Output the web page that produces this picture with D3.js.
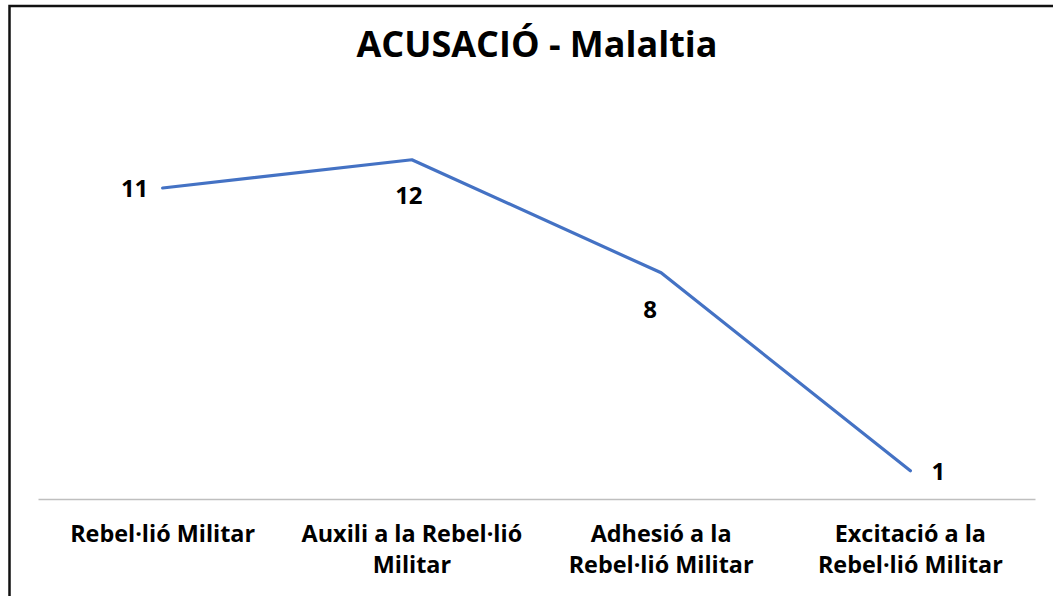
<!DOCTYPE html>
<html>
<head>
<meta charset="utf-8">
<script src="https://cdn.jsdelivr.net/npm/d3@7"></script>
<style>
    body { margin: 0; background: #fff; }
    svg text { font-family: "Open Sans", Lato, sans-serif; font-weight: bold; fill: #000; }
</style>
</head>
<body>
<div class="canvas"></div>
<script>
const categories = [
    ['Rebel·lió Militar'],
    ['Auxili a la Rebel·lió', 'Militar'],
    ['Adhesió a la', 'Rebel·lió Militar'],
    ['Excitació a la', 'Rebel·lió Militar']
];
const values = [11, 12, 8, 1];
const title = 'ACUSACIÓ - Malaltia';

const width = 1053, height = 596;
const plotL = 38, plotR = 1035, axisY = 499;

const svg = d3.select('.canvas')
    .append('svg')
    .attr('width', width)
    .attr('height', height)
    ;

// border (open on the right and bottom, like the cropped original)
svg.append('path')
    .attr('d', `M9.5,${height} V6 H${width}`)
    .attr('fill', 'none')
    .attr('stroke', '#111')
    .attr('stroke-width', 2.5);

const xScale = d3.scaleBand()
    .domain(d3.range(values.length))
    .range([plotL, plotR]);

const yScale = d3.scaleLinear()
    .domain([0, 14])
    .range([axisY, 103.2]);

// title
svg.append('text')
    .attr('x', 537)
    .attr('y', 57)
    .attr('text-anchor', 'middle')
    .style('font-size', '36px')
    .text(title);

// x axis
const xAxis = d3.axisBottom(xScale).tickSize(0).tickFormat('');
svg.append('g')
    .attr('transform', `translate(0, ${axisY})`)
    .call(xAxis)
    .call(g => g.select('.domain').attr('stroke', '#bfbfbf').attr('stroke-width', 1.5));

const cx = (i) => xScale(i) + xScale.bandwidth() / 2;

svg.append('g')
    .selectAll('text')
    .data(categories)
    .enter()
    .append('text')
    .attr('text-anchor', 'middle')
    .style('font-size', '23.4px')
    .each(function (d, i) {
        d3.select(this).selectAll('tspan')
            .data(d)
            .enter()
            .append('tspan')
            .attr('x', cx(i))
            .attr('y', (t, j) => 542 + j * 31)
            .text(t => t);
    });

// line
const line = d3.line()
    .x((d, i) => cx(i))
    .y((d) => yScale(d));

svg.append('path')
    .datum(values)
    .attr('d', line)
    .attr('fill', 'none')
    .attr('stroke', '#4472c4')
    .attr('stroke-width', 3.2)
    .attr('stroke-linejoin', 'round')
    .attr('stroke-linecap', 'round');

// data labels: left, below, below-left, right
const labelPos = [
    { dx: -28, dy: 9 },
    { dx: -3, dy: 44 },
    { dx: -11, dy: 45 },
    { dx: 28, dy: 9 }
];
svg.append('g')
    .selectAll('text')
    .data(values)
    .enter()
    .append('text')
    .attr('x', (d, i) => cx(i) + labelPos[i].dx)
    .attr('y', (d, i) => yScale(d) + labelPos[i].dy)
    .attr('text-anchor', 'middle')
    .style('font-size', '24px')
    .text(d => d);
</script>
</body>
</html>
